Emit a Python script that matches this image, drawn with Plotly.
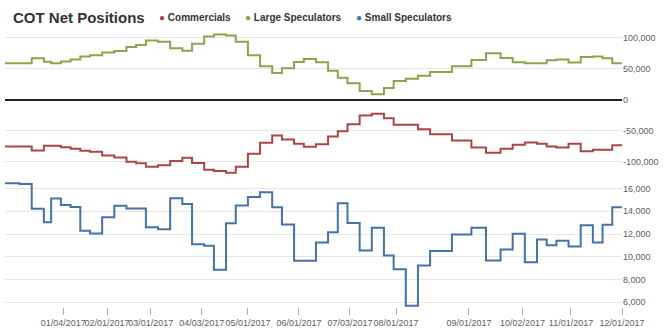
import plotly.graph_objects as go

# Weekly COT reports: trading-session index at which each report takes effect
session = [0, 6, 11, 16, 19, 23, 27, 31, 35, 40, 45, 50, 54, 58, 63, 68, 73, 77,
           82, 86, 91, 95, 100, 105, 110, 114, 119, 123, 128, 133, 137, 141, 146,
           151, 156, 160, 165, 170, 175, 184, 192, 198, 204, 209, 214, 219, 223,
           227, 232, 237, 242, 246, 250, 254]

commercials = [-75500, -75500, -81900, -74500, -74500, -76600, -79300, -82500,
               -84100, -89900, -93100, -100000, -102700, -108000, -105900, -98900,
               -93600, -102100, -112800, -114900, -117600, -108000, -87200, -69700,
               -58000, -64400, -71300, -76100, -71800, -59600, -51100, -39900,
               -25500, -22900, -30300, -40400, -40400, -47900, -55900, -66000,
               -77100, -85700, -79300, -72900, -69200, -71300, -75500, -77100,
               -71300, -83000, -80900, -80600, -73400, -73400]

large_speculators = [58500, 58500, 66500, 60700, 58500, 61200, 64400, 69200,
                     71300, 75500, 78200, 84600, 87800, 95200, 93100, 82500,
                     78700, 89900, 101600, 104800, 103200, 93100, 71300, 53700,
                     42600, 50500, 60600, 65400, 60100, 46300, 35100, 26100,
                     13800, 8500, 18600, 29800, 33500, 38300, 44200, 53700,
                     63800, 74500, 67000, 60100, 58500, 58500, 63300, 64400,
                     59600, 68600, 69200, 66500, 58500, 58500]

small_speculators = [16460, 16400, 14230, 13040, 15130, 14550, 14380, 12290,
                     12060, 13480, 14490, 14260, 14260, 12610, 12430, 15160,
                     14640, 11100, 10980, 8870, 12960, 14520, 15250, 15680,
                     14350, 12840, 9650, 9650, 11270, 12170, 14720, 12980,
                     10550, 12550, 10110, 8900, 5700, 9240, 10520, 11970,
                     12550, 9680, 10640, 12030, 9530, 11530, 11010, 11420,
                     10900, 12780, 11270, 12810, 14350, 14350]

# Month labels on the session axis
tick_sessions = [24, 42, 60, 81, 100, 121, 142, 161, 191, 213, 233, 254]
tick_labels = ["01/04/2017", "02/01/2017", "03/01/2017", "04/03/2017",
               "05/01/2017", "06/01/2017", "07/03/2017", "08/01/2017",
               "09/01/2017", "10/02/2017", "11/01/2017", "12/01/2017"]

top_ticks = [-100000, -50000, 0, 50000, 100000]
top_labels = ["-100,000", "-50,000", "0", "50,000", "100,000"]
bottom_ticks = [6000, 8000, 10000, 12000, 14000, 16000]
bottom_labels = ["6,000", "8,000", "10,000", "12,000", "14,000", "16,000"]

series_colors = {"Commercials": "#AA4643",
                 "Large Speculators": "#89A54E",
                 "Small Speculators": "#4572A7"}

FONT = "Liberation Sans, Arial, Helvetica, sans-serif"
W, H = 664, 333
L, R, T, B = 5, 41, 30, 23
plot_w = W - L - R
plot_h = H - T - B

fig = go.Figure()
fig.add_trace(go.Scatter(x=session, y=large_speculators, name="Large Speculators",
                         mode="lines", xaxis="x", yaxis="y",
                         line=dict(color=series_colors["Large Speculators"], width=2, shape="hv"),
                         showlegend=False))
fig.add_trace(go.Scatter(x=session, y=commercials, name="Commercials",
                         mode="lines", xaxis="x", yaxis="y",
                         line=dict(color=series_colors["Commercials"], width=2, shape="hv"),
                         showlegend=False))
fig.add_trace(go.Scatter(x=session, y=small_speculators, name="Small Speculators",
                         mode="lines", xaxis="x", yaxis="y2",
                         line=dict(color=series_colors["Small Speculators"], width=2, shape="hv"),
                         showlegend=False))

def px_x(px):
    return (px - L) / plot_w

def px_y(py):
    return (H - B - py) / plot_h

tick_font = dict(family=FONT, size=9, color="#606060")

fig.update_layout(
    width=W, height=H,
    margin=dict(l=L, r=R, t=T, b=B),
    paper_bgcolor="white", plot_bgcolor="white",
    font=dict(family=FONT, color="#333333"),
    title=dict(text="<b>COT Net Positions</b>", x=13 / W, xref="container",
               xanchor="left", y=1 - 18 / H, yref="container", yanchor="middle",
               font=dict(family=FONT, size=15, color="#333333")),
    xaxis=dict(domain=[0, 1], anchor="y2", range=[0, 254],
               tickmode="array", tickvals=tick_sessions, ticktext=tick_labels,
               ticks="outside", ticklen=7, tickwidth=1, tickcolor="#b0b0b0",
               tickangle=0, showgrid=False, zeroline=False, showline=False,
               tickfont=tick_font),
    yaxis=dict(domain=[px_y(177), 1], anchor="x", side="right",
               range=[-122100, 111900], tickmode="array",
               tickvals=top_ticks, ticktext=top_labels,
               showgrid=True, gridcolor="#e6e6e6", gridwidth=1,
               zeroline=True, zerolinecolor="#222222", zerolinewidth=1.5,
               showline=False, ticks="", tickfont=tick_font),
    yaxis2=dict(domain=[0, px_y(180)], anchor="x", side="right",
                range=[5591, 16896], tickmode="array",
                tickvals=bottom_ticks, ticktext=bottom_labels,
                showgrid=True, gridcolor="#e6e6e6", gridwidth=1,
                zeroline=False, showline=False, ticks="", tickfont=tick_font),
)

# Legend entries drawn beside the title
legend_left = {"Commercials": 157, "Large Speculators": 243.5, "Small Speculators": 354.5}
for name, left in legend_left.items():
    fig.add_annotation(
        text=f"<span style='color:{series_colors[name]}'>●</span> <b>{name}</b>",
        xref="paper", yref="paper", x=px_x(left), y=px_y(17),
        xanchor="left", yanchor="middle", showarrow=False,
        font=dict(family=FONT, size=10, color="#333333"))

fig.write_html("out.html")
